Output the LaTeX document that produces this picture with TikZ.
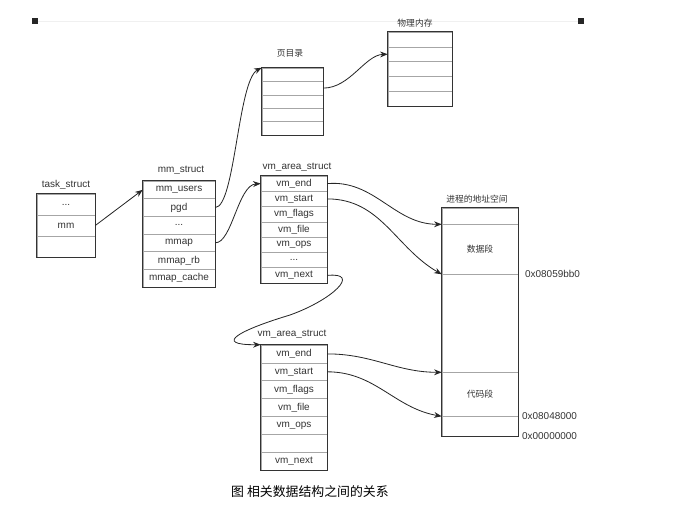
\documentclass[tikz,border=0pt]{standalone}
\usepackage{fontspec}
\setmainfont{Liberation Sans}
\newfontfamily\cjk{Noto Sans CJK SC}
\usepackage{tikz}
\usetikzlibrary{arrows.meta, positioning}
\usepackage{xcolor}
\definecolor{ink}{HTML}{333333}

\begin{document}
\begin{tikzpicture}[x=0.03cm, y=-0.03cm,
  cell/.style={draw=gray!70, line width=0.5pt, inner sep=0pt,
               font=\fontsize{8.5}{9}\selectfont, text=ink},
  tcell/.style={cell, minimum width=1.74cm, minimum height=0.63cm},
  mcell/.style={cell, minimum width=2.16cm, minimum height=0.53cm},
  vcell/.style={cell, minimum width=1.98cm, minimum height=0.459cm},
  wcell/.style={cell, minimum width=1.98cm, minimum height=0.536cm},
  pcell/.style={cell, minimum width=1.83cm, minimum height=0.402cm},
  rcell/.style={cell, minimum width=1.92cm, minimum height=0.444cm},
  acell/.style={cell, minimum width=2.28cm},
  frame/.style={draw=ink, line width=0.8pt},
  title/.style={font=\fontsize{8.5}{9}\selectfont, text=ink},
  ctitle/.style={font=\cjk\fontsize{7.5}{9}\selectfont, text=ink},
  addr/.style={font=\fontsize{8.5}{9}\selectfont, text=ink, anchor=west},
  arr/.style={-{Stealth[length=6.5pt, width=5pt]}, line width=0.7pt, black!85}
]
  \useasboundingbox (0,0) rectangle (677,523);

  % corner marks
  \draw[black!6] (35,21) -- (581,21);
  \fill[black!85] (32,18) rectangle (38,24);
  \fill[black!85] (578,18) rectangle (584,24);

  % task_struct
  \node[title] (TS) at (66,185) {task\_struct};
  \node[tcell] (T1) at (66,204.5) {...};
  \node[tcell] (T2) at (66,225.5) {mm};
  \node[tcell] (T3) at (66,246.5) {};
  \draw[frame] (T1.north west) rectangle (T3.south east);

  % mm_struct
  \node[title] (MS) at (181,170) {mm\_struct};
  \node[mcell] (M1) at (179,189.8) {mm\_users};
  \node[mcell] (M2) at (179,207.5) {pgd};
  \node[mcell] (M3) at (179,225.2) {...};
  \node[mcell] (M4) at (179,242.8) {mmap};
  \node[mcell] (M5) at (179,260.5) {mmap\_rb};
  \node[mcell] (M6) at (179,278.2) {mmap\_cache};
  \draw[frame] (M1.north west) rectangle (M6.south east);

  % first vm_area_struct
  \node[title] (VS) at (297,167) {vm\_area\_struct};
  \node[vcell] (V1) at (294,183.6) {vm\_end};
  \node[vcell] (V2) at (294,198.9) {vm\_start};
  \node[vcell] (V3) at (294,214.2) {vm\_flags};
  \node[vcell] (V4) at (294,229.5) {vm\_file};
  \node[vcell] (V5) at (294,244.8) {vm\_ops};
  \node[vcell] (V6) at (294,260.1) {...};
  \node[vcell] (V7) at (294,275.4) {vm\_next};
  \draw[frame] (V1.north west) rectangle (V7.south east);

  % second vm_area_struct
  \node[title] (WS) at (292,334) {vm\_area\_struct};
  \node[wcell] (W1) at (294,353.9) {vm\_end};
  \node[wcell] (W2) at (294,371.8) {vm\_start};
  \node[wcell] (W3) at (294,389.6) {vm\_flags};
  \node[wcell] (W4) at (294,407.5) {vm\_file};
  \node[wcell] (W5) at (294,425.4) {vm\_ops};
  \node[wcell] (W6) at (294,443.2) {};
  \node[wcell] (W7) at (294,461.1) {vm\_next};
  \draw[frame] (W1.north west) rectangle (W7.south east);

  % page directory
  \node[ctitle] (PS) at (290,53) {页目录};
  \node[pcell] (P1) at (292.5,74.7) {};
  \node[pcell] (P2) at (292.5,88.1) {};
  \node[pcell] (P3) at (292.5,101.5) {};
  \node[pcell] (P4) at (292.5,114.9) {};
  \node[pcell] (P5) at (292.5,128.3) {};
  \draw[frame] (P1.north west) rectangle (P5.south east);

  % physical memory
  \node[ctitle] (RS) at (415,23) {物理内存};
  \node[rcell] (R1) at (420,39.4) {};
  \node[rcell] (R2) at (420,54.2) {};
  \node[rcell] (R3) at (420,69) {};
  \node[rcell] (R4) at (420,83.8) {};
  \node[rcell] (R5) at (420,98.6) {};
  \draw[frame] (R1.north west) rectangle (R5.south east);

  % address space
  \node[ctitle] (AS) at (477,199) {进程的地址空间};
  \node[acell, minimum height=0.48cm] (A1) at (480,216) {};
  \node[acell, minimum height=1.5cm, font=\cjk\fontsize{7.5}{9}\selectfont]
    (A2) at (480,249) {数据段};
  \node[acell, minimum height=2.94cm] (A3) at (480,323) {};
  \node[acell, minimum height=1.32cm, font=\cjk\fontsize{7.5}{9}\selectfont]
    (A4) at (480,394) {代码段};
  \node[acell, minimum height=0.6cm] (A5) at (480,426) {};
  \draw[frame] (A1.north west) rectangle (A5.south east);
  \node[addr] (D1) at (521,274) {0x08059bb0};
  \node[addr] (D2) at (518,416) {0x08048000};
  \node[addr] (D3) at (518,436) {0x00000000};

  % pointers
  \draw[arr] (T2.east) -- (M1.west);
  \draw[arr] (M2.east) .. controls (235,207) and (238,80) .. (P1.north west);
  \draw[arr] (M4.east) .. controls (232,243) and (238,185) .. (V1.west);
  \draw[arr] (P2.east) .. controls (350,88) and (365,55) .. (R2.west);
  \draw[arr] (V1.east) to[out=5, in=180] (A1.south west);
  \draw[arr] (V2.east) to[out=0, in=150] (A2.south west);
  \draw[arr] (V7.east) .. controls (362,272) and (332,300) .. (290,315)
    .. controls (240,330) and (212,345) .. (W1.north west);
  \draw[arr] (W1.east) to[out=0, in=180] (A3.south west);
  \draw[arr] (W2.east) to[out=0, in=170] (A4.south west);

  % caption
  \node[font=\cjk\fontsize{11}{13}\selectfont] (CAP) at (310,492)
    {图 相关数据结构之间的关系};
\end{tikzpicture}
\end{document}
